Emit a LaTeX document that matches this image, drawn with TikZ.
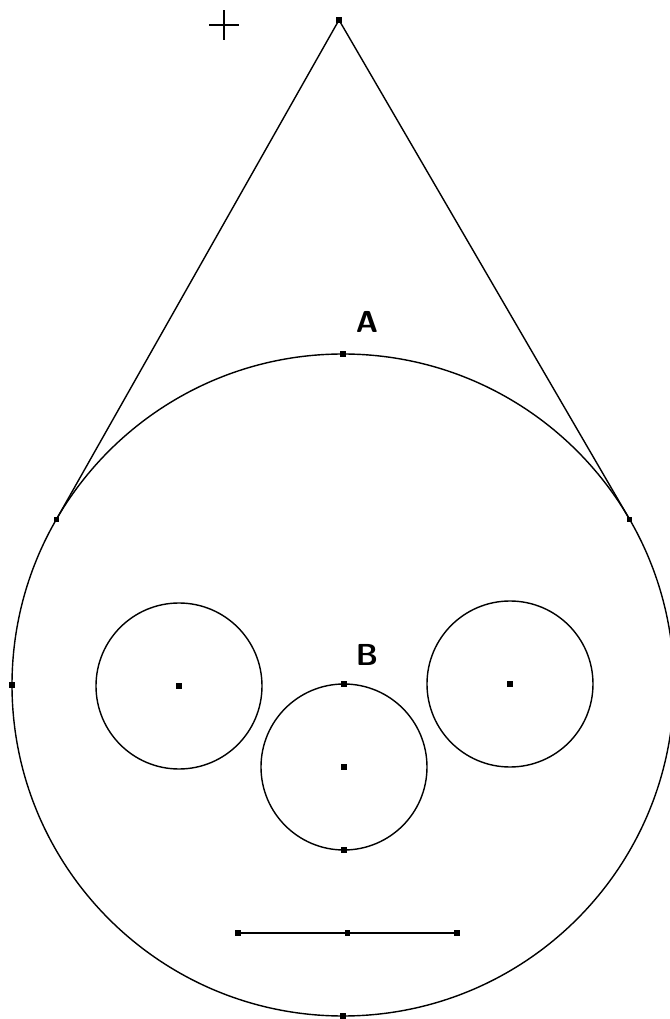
\documentclass[tikz,border=0pt]{standalone}
\usepackage{xcolor}
\definecolor{sketchink}{HTML}{000000}

\begin{document}
\begin{tikzpicture}[
  x=0.02cm,
  y=0.02cm,
  every node/.style={font=\sffamily\bfseries\LARGE},
  dot/.style={fill=sketchink, rectangle, inner sep=0pt, minimum size=3.2pt},
  ink/.style={sketchink, line width=0.8pt}
]
  \useasboundingbox (0,0) rectangle (670,1019);
  \def\bigR{331}
  \def\smallR{83}
  \coordinate (O) at (343,334);
  \coordinate (Lc) at (179,333);
  \coordinate (Rc) at (510,335);
  \coordinate (Mc) at (344,252);

  % circles
  \draw[ink] (O) circle[radius=\bigR];
  \draw[ink] (Lc) circle[radius=\smallR];
  \draw[ink] (Rc) circle[radius=\smallR];
  \draw[ink] (Mc) circle[radius=\smallR];

  % points
  \node[dot] (apex) at (339,999) {};
  \node[dot] (tanL) at ([shift={(150:\bigR)}]O) {};
  \node[dot] (tanR) at ([shift={(30:\bigR)}]O) {};
  \node[dot] (topA) at ([shift={(90:\bigR)}]O) {};
  \node[dot] (west) at ([shift={(180:\bigR)}]O) {};
  \node[dot] (south) at ([shift={(270:\bigR)}]O) {};
  \node[dot] (Ldot) at (Lc) {};
  \node[dot] (Rdot) at (Rc) {};
  \node[dot] (Mdot) at (Mc) {};
  \node[dot] (topB) at ([shift={(90:\smallR)}]Mc) {};
  \node[dot] (botB) at ([shift={(270:\smallR)}]Mc) {};
  \node[dot] (segL) at (238,86) {};
  \node[dot] (segM) at (347.5,86) {};
  \node[dot] (segR) at (457,86) {};

  % tangents and segment
  \draw[ink] (apex.center) -- (tanL.center);
  \draw[ink] (apex.center) -- (tanR.center);
  \draw[ink] (segL.center) -- (segR.center);

  % labels
  \node[sketchink] (labA) at (367,697) {A};
  \node[sketchink] (labB) at (367,364) {B};

  % cross
  \coordinate (cross) at (224,994);
  \draw[sketchink, line width=1.1pt] ([xshift=-15*0.02cm]cross) -- ([xshift=15*0.02cm]cross);
  \draw[sketchink, line width=1.1pt] ([yshift=-15*0.02cm]cross) -- ([yshift=15*0.02cm]cross);
\end{tikzpicture}
\end{document}
